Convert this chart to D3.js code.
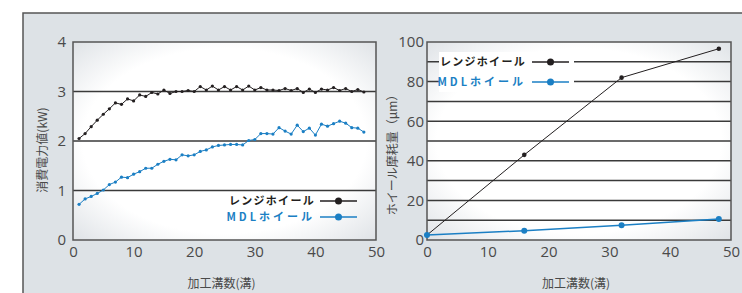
<!DOCTYPE html>
<html>
<head>
<meta charset="utf-8">
<script src="https://cdn.jsdelivr.net/npm/d3@7"></script>
<style>
  body { margin: 0; background: #fff; }
  svg text { font-family: "Open Sans", "Noto Sans CJK JP", sans-serif; }
  .jp { font-family: "Noto Sans CJK JP", sans-serif; }
</style>
</head>
<body>
<svg id="chart" width="742" height="293"></svg>
<script>
'use strict';

// left chart: power consumption (kW) per groove
var powerX = d3.range(1, 49);
var powerResin = [2.05, 2.15, 2.29, 2.42, 2.54, 2.65, 2.77, 2.74, 2.85, 2.81,
	2.93, 2.90, 2.98, 2.95, 3.03, 2.96, 3.00, 3.00, 3.02, 3.00,
	3.10, 3.03, 3.11, 3.03, 3.10, 3.03, 3.10, 3.03, 3.11, 3.03,
	3.08, 3.03, 3.03, 3.02, 3.06, 3.02, 3.06, 2.98, 3.05, 2.98,
	3.05, 3.03, 3.08, 3.02, 3.06, 3.00, 3.04, 2.99];
var powerMdl = [0.72, 0.83, 0.88, 0.94, 1.01, 1.12, 1.17, 1.27, 1.26, 1.33,
	1.38, 1.45, 1.45, 1.53, 1.59, 1.63, 1.62, 1.72, 1.70, 1.72,
	1.79, 1.82, 1.88, 1.91, 1.92, 1.93, 1.93, 1.92, 2.01, 2.03,
	2.15, 2.15, 2.14, 2.27, 2.20, 2.14, 2.32, 2.19, 2.26, 2.12,
	2.34, 2.30, 2.35, 2.40, 2.36, 2.27, 2.26, 2.18];

// right chart: wheel wear (um)
var wearX = [0, 16, 32, 48];
var wearResin = [2.5, 43, 82, 96.6];
var wearMdl = [2.5, 4.7, 7.4, 10.6];

var xTicks = [0, 10, 20, 30, 40, 50];
var powerTicks = [0, 1, 2, 3, 4];
var powerGrid = [1, 2, 3];
var wearTicks = [0, 20, 40, 60, 80, 100];
var wearGrid = [10, 20, 30, 40, 50, 60, 70, 80, 90];

var legendNames = ['レンジホイール', 'MDLホイール'];
var xTitle = '加工溝数(溝)';
var powerTitle = '消費電力値(kW)';
var wearTitle = 'ホイール摩耗量（μm）';

var BLACK = '#231f20';
var BLUE = '#1b7fc4';
var GRID = '#3a3a3a';
var TICK = '#4a4a4a';

var svg = d3.select('#chart');

// outer panel
svg.append('rect')
	.attr('x', 23).attr('y', 13).attr('width', 730).attr('height', 300)
	.attr('fill', '#dde2e6').attr('stroke', '#555').attr('stroke-width', 1.5);

var defs = svg.append('defs');
var grad = defs.append('radialGradient')
	.attr('id', 'plot-bg')
	.attr('cx', '50%').attr('cy', '50%').attr('r', '72%');
grad.selectAll('stop')
	.data([
		{offset: '0%', color: '#ffffff'},
		{offset: '65%', color: '#ffffff'},
		{offset: '100%', color: '#dde1e5'}
	])
	.enter().append('stop')
		.attr('offset', function(d) { return d.offset; })
		.attr('stop-color', function(d) { return d.color; });

function drawPanel(opt) {
	var x = d3.scaleLinear().domain([0, 50]).range([opt.left, opt.right]);
	var y = d3.scaleLinear().domain(opt.yDomain).range([240, 42]);

	svg.append('rect')
		.attr('x', opt.left).attr('y', 42)
		.attr('width', opt.right - opt.left).attr('height', 198)
		.attr('fill', 'url(#plot-bg)');

	var grid = svg.append('g');
	grid.selectAll('line')
		.data(opt.grid)
		.enter().append('line')
			.attr('x1', opt.left).attr('x2', opt.right)
			.attr('y1', function(d) { return y(d); })
			.attr('y2', function(d) { return y(d); })
			.attr('stroke', GRID).attr('stroke-width', 1.5);

	if (opt.legendBox) {
		svg.append('rect')
			.attr('x', opt.legendBox[0]).attr('y', 52)
			.attr('width', opt.legendBox[1] - opt.legendBox[0]).attr('height', 40)
			.attr('fill', '#fff');
	}

	svg.append('rect')
		.attr('x', opt.left).attr('y', 42)
		.attr('width', opt.right - opt.left).attr('height', 198)
		.attr('fill', 'none').attr('stroke', '#555').attr('stroke-width', 1.5);

	var yAxis = svg.append('g')
		.attr('transform', 'translate(' + opt.left + ',0)')
		.call(d3.axisLeft(y).tickValues(opt.ticks).tickFormat(d3.format('d'))
			.tickSize(0).tickPadding(opt.yPad));
	var xAxis = svg.append('g')
		.attr('transform', 'translate(0,240)')
		.call(d3.axisBottom(x).tickValues(xTicks).tickFormat(d3.format('d'))
			.tickSize(0).tickPadding(6));
	[xAxis, yAxis].forEach(function(a) {
		a.select('.domain').remove();
		a.selectAll('text')
			.attr('fill', TICK)
			.style('font-size', '15px')
			.style('font-family', '"Open Sans", sans-serif');
	});

	svg.append('text')
		.attr('class', 'jp')
		.attr('x', (opt.left + opt.right) / 2 - 3).attr('y', 288)
		.attr('text-anchor', 'middle')
		.attr('fill', TICK).style('font-size', '12px')
		.text(xTitle);

	svg.append('text')
		.attr('class', 'jp')
		.attr('transform', 'translate(' + opt.titleX + ',' + opt.titleY + ') rotate(-90)')
		.attr('text-anchor', 'middle')
		.attr('fill', TICK).style('font-size', '12px')
		.text(opt.title);

	var line = d3.line()
		.x(function(d) { return x(d[0]); })
		.y(function(d) { return y(d[1]); });

	opt.series.forEach(function(s) {
		var pts = opt.xs.map(function(v, i) { return [v, s.values[i]]; });
		svg.append('path')
			.datum(pts)
			.attr('fill', 'none')
			.attr('stroke', s.color)
			.attr('stroke-width', s.width)
			.attr('stroke-linejoin', 'round')
			.attr('d', line);
		svg.append('g').selectAll('circle')
			.data(pts)
			.enter().append('circle')
				.attr('cx', function(d) { return x(d[0]); })
				.attr('cy', function(d) { return y(d[1]); })
				.attr('r', s.r)
				.attr('fill', s.color);
	});

	// legend
	opt.legend.forEach(function(l, i) {
		var ly = opt.legendY[i];
		svg.append('text')
			.attr('class', 'jp')
			.attr('x', opt.legendTextX).attr('y', ly)
			.attr('dy', '0.36em')
			.attr('text-anchor', 'end')
			.attr('fill', l.color)
			.style('font-size', '11px')
			.style('font-weight', 'bold')
			.style('letter-spacing', l.spacing)
			.text(l.name);
		svg.append('line')
			.attr('x1', opt.legendLine[0]).attr('x2', opt.legendLine[1])
			.attr('y1', ly).attr('y2', ly)
			.attr('stroke', l.color).attr('stroke-width', 1.5);
		svg.append('circle')
			.attr('cx', (opt.legendLine[0] + opt.legendLine[1]) / 2)
			.attr('cy', ly).attr('r', 3.5)
			.attr('fill', l.color);
	});
}

drawPanel({
	left: 73, right: 376,
	yDomain: [0, 4],
	ticks: powerTicks, grid: powerGrid, yPad: 7,
	title: powerTitle, titleX: 47, titleY: 150,
	xs: powerX,
	series: [
		{values: powerResin, color: BLACK, width: 1, r: 1.6},
		{values: powerMdl, color: BLUE, width: 1, r: 1.6}
	],
	legend: [
		{name: legendNames[0], color: BLACK, spacing: '1.3px'},
		{name: legendNames[1], color: BLUE, spacing: '3px'}
	],
	legendY: [201, 217],
	legendTextX: 315,
	legendLine: [320, 357]
});

drawPanel({
	left: 427, right: 731,
	yDomain: [0, 100],
	ticks: wearTicks, grid: wearGrid, yPad: 3,
	title: wearTitle, titleX: 397, titleY: 152,
	xs: wearX,
	series: [
		{values: wearResin, color: BLACK, width: 1, r: 2.3},
		{values: wearMdl, color: BLUE, width: 1.5, r: 3}
	],
	legend: [
		{name: legendNames[0], color: BLACK, spacing: '1.3px'},
		{name: legendNames[1], color: BLUE, spacing: '3px'}
	],
	legendY: [62, 82],
	legendTextX: 526,
	legendLine: [532, 569],
	legendBox: [439, 574]
});
</script>
</body>
</html>
